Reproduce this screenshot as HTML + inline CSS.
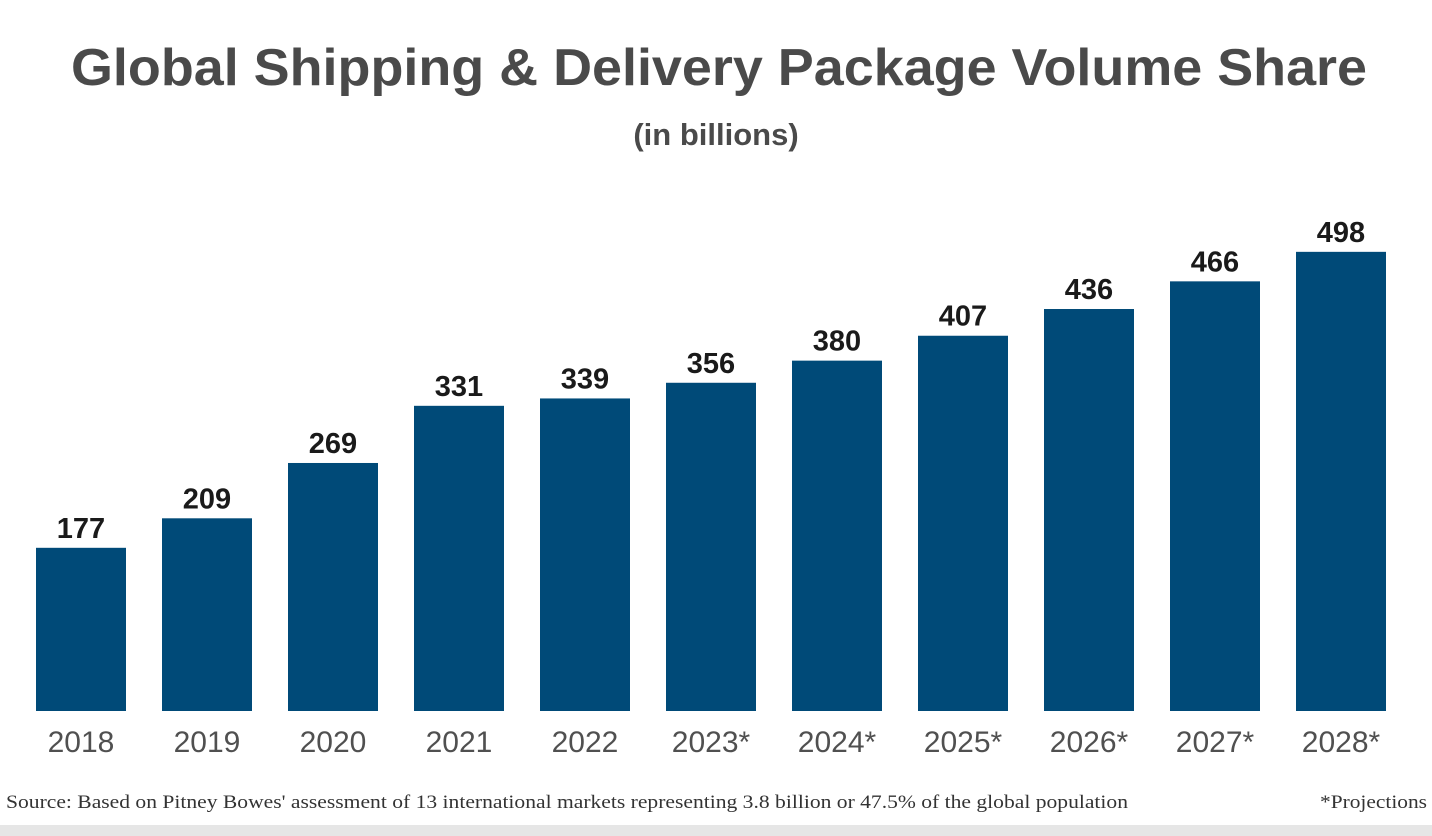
<!DOCTYPE html>
<html><head><meta charset="utf-8"><style>
html,body{margin:0;padding:0;background:#fff;}
body{width:1432px;height:836px;position:relative;overflow:hidden;font-family:"Liberation Sans",sans-serif;}
#band{position:absolute;left:0;top:825px;width:1432px;height:11px;background:#e6e6e6;}
</style></head><body>
<svg id="chart" width="1432" height="836" style="position:absolute;left:0;top:0">
<text x="719" y="85" text-anchor="middle" font-family="Liberation Sans, sans-serif" font-weight="bold" font-size="52" textLength="1296" lengthAdjust="spacingAndGlyphs" fill="#4a4a4a">Global Shipping &amp; Delivery Package Volume Share</text>
<text x="716" y="145" text-anchor="middle" font-family="Liberation Sans, sans-serif" font-weight="bold" font-size="31" fill="#4a4a4a">(in billions)</text>
<g id="bars"></g>
<text x="6" y="808" font-family="Liberation Serif, serif" font-size="19" textLength="1122" lengthAdjust="spacingAndGlyphs" fill="#333">Source: Based on Pitney Bowes' assessment of 13 international markets representing 3.8 billion or 47.5% of the global population</text>
<text x="1427" y="808" text-anchor="end" font-family="Liberation Serif, serif" font-size="19" textLength="107" lengthAdjust="spacingAndGlyphs" fill="#333">*Projections</text>
</svg>
<div id="band"></div>
<script>
const categories = ["2018","2019","2020","2021","2022","2023*","2024*","2025*","2026*","2027*","2028*"];
const values = [177,209,269,331,339,356,380,407,436,466,498];
const valueLabels = ["177","209","269","331","339","356","380","407","436","466","498"];
const NS="http://www.w3.org/2000/svg";
const baseY=711, pxPer=0.922, x0=36, pitch=126, bw=90;
const xScale=i=>x0+i*pitch;
const yScale=v=>baseY-v*pxPer;
const g=document.getElementById('bars');
categories.forEach((c,i)=>{
  const r=document.createElementNS(NS,'rect');
  
  
  r.setAttribute('x',xScale(i));r.setAttribute('y',yScale(values[i]));
  r.setAttribute('width',bw);r.setAttribute('height',baseY-yScale(values[i]));
  r.setAttribute('fill','#004a78');
  g.appendChild(r);
  const t=document.createElementNS(NS,'text');
  
  
  t.setAttribute('x',xScale(i)+bw/2);t.setAttribute('y',yScale(values[i])-10);
  t.setAttribute('text-anchor','middle');t.setAttribute('font-size','29');t.setAttribute('font-weight','bold');t.setAttribute('fill','#1a1a1a');
  t.setAttribute('font-family','Liberation Sans, sans-serif');
  t.textContent=valueLabels[i];g.appendChild(t);
  const l=document.createElementNS(NS,'text');
  
  
  l.setAttribute('x',xScale(i)+bw/2);l.setAttribute('y',752);
  l.setAttribute('text-anchor','middle');l.setAttribute('font-size','30');l.setAttribute('fill','#505050');
  l.setAttribute('font-family','Liberation Sans, sans-serif');
  l.textContent=c;g.appendChild(l);
});
</script>
</body></html>
